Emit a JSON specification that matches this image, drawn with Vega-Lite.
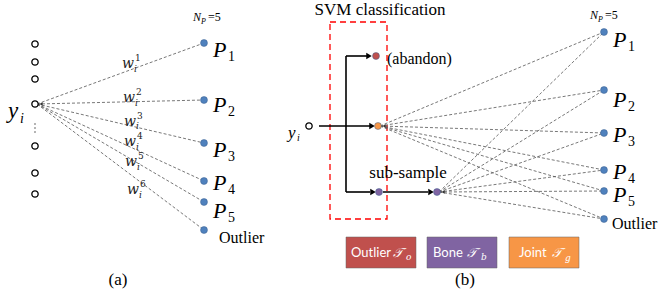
{
  "$schema": "https://vega.github.io/schema/vega-lite/v6.json",
  "width": 666,
  "height": 298,
  "padding": 0,
  "autosize": "none",
  "background": "white",
  "config": {"view": {"stroke": null}},
  "datasets": {
    "dash": [
      {"x": 37, "y": 104, "x2": 204, "y2": 43},
      {"x": 37, "y": 104, "x2": 204, "y2": 100},
      {"x": 37, "y": 104, "x2": 204, "y2": 143},
      {"x": 37, "y": 104, "x2": 204, "y2": 181},
      {"x": 37, "y": 104, "x2": 204, "y2": 202},
      {"x": 37, "y": 104, "x2": 204, "y2": 230},
      {"x": 380, "y": 126, "x2": 604, "y2": 32},
      {"x": 380, "y": 126, "x2": 604, "y2": 90},
      {"x": 380, "y": 126, "x2": 604, "y2": 133},
      {"x": 380, "y": 126, "x2": 604, "y2": 170},
      {"x": 380, "y": 126, "x2": 604, "y2": 191},
      {"x": 380, "y": 126, "x2": 604, "y2": 219},
      {"x": 439, "y": 192, "x2": 604, "y2": 32},
      {"x": 439, "y": 192, "x2": 604, "y2": 90},
      {"x": 439, "y": 192, "x2": 604, "y2": 133},
      {"x": 439, "y": 192, "x2": 604, "y2": 170},
      {"x": 439, "y": 192, "x2": 604, "y2": 191},
      {"x": 439, "y": 192, "x2": 604, "y2": 219}
    ],
    "solid": [
      {"x": 319, "y": 126, "x2": 370, "y2": 126},
      {"x": 346, "y": 56, "x2": 346, "y2": 192},
      {"x": 346, "y": 56, "x2": 367, "y2": 56},
      {"x": 346, "y": 192, "x2": 370, "y2": 192},
      {"x": 383, "y": 192, "x2": 428, "y2": 192}
    ],
    "heads": [
      {"x": 369, "y": 56},
      {"x": 372, "y": 126},
      {"x": 373, "y": 192},
      {"x": 431, "y": 192}
    ],
    "smallheads": [
      {"x": 41, "y": 104},
      {"x": 384, "y": 126},
      {"x": 443, "y": 192}
    ],
    "hollow": [
      {"x": 35, "y": 44}, {"x": 35, "y": 62}, {"x": 35, "y": 79},
      {"x": 35, "y": 104}, {"x": 35, "y": 146}, {"x": 35, "y": 173},
      {"x": 35, "y": 194}, {"x": 309, "y": 126}
    ],
    "ellipsis": [
      {"x": 35, "y": 124}, {"x": 35, "y": 128}, {"x": 35, "y": 132}
    ],
    "dots": [
      {"x": 204, "y": 43, "kind": "Part"},
      {"x": 204, "y": 100, "kind": "Part"},
      {"x": 204, "y": 143, "kind": "Part"},
      {"x": 204, "y": 181, "kind": "Part"},
      {"x": 204, "y": 202, "kind": "Part"},
      {"x": 204, "y": 230, "kind": "Part"},
      {"x": 604, "y": 32, "kind": "Part"},
      {"x": 604, "y": 90, "kind": "Part"},
      {"x": 604, "y": 133, "kind": "Part"},
      {"x": 604, "y": 170, "kind": "Part"},
      {"x": 604, "y": 191, "kind": "Part"},
      {"x": 604, "y": 219, "kind": "Part"},
      {"x": 376, "y": 56, "kind": "Outlier"},
      {"x": 378, "y": 126, "kind": "Joint"},
      {"x": 379, "y": 192, "kind": "Bone"},
      {"x": 437, "y": 192, "kind": "Bone"}
    ],
    "boxes": [
      {"x": 346, "x2": 416, "y": 237, "y2": 268, "kind": "Outlier"},
      {"x": 427, "x2": 497, "y": 237, "y2": 268, "kind": "Bone"},
      {"x": 509, "x2": 579, "y": 237, "y2": 268, "kind": "Joint"}
    ],
    "svmbox": [{"x": 330, "x2": 387, "y": 22, "y2": 219}],
    "bigP": [
      {"x": 213, "y": 57, "t": "P"}, {"x": 213, "y": 112, "t": "P"},
      {"x": 213, "y": 157, "t": "P"}, {"x": 213, "y": 190, "t": "P"},
      {"x": 213, "y": 218, "t": "P"},
      {"x": 613, "y": 47, "t": "P"}, {"x": 613, "y": 107, "t": "P"},
      {"x": 613, "y": 142, "t": "P"}, {"x": 613, "y": 179, "t": "P"},
      {"x": 613, "y": 202, "t": "P"}
    ],
    "subP": [
      {"x": 228, "y": 61, "t": "1"}, {"x": 228, "y": 116, "t": "2"},
      {"x": 228, "y": 161, "t": "3"}, {"x": 228, "y": 194, "t": "4"},
      {"x": 228, "y": 222, "t": "5"},
      {"x": 628, "y": 51, "t": "1"}, {"x": 628, "y": 111, "t": "2"},
      {"x": 628, "y": 146, "t": "3"}, {"x": 628, "y": 183, "t": "4"},
      {"x": 628, "y": 206, "t": "5"}
    ],
    "serifLeft": [
      {"x": 219, "y": 243, "t": "Outlier"},
      {"x": 612, "y": 229, "t": "Outlier"},
      {"x": 387, "y": 64, "t": "(abandon)"}
    ],
    "serifCenter": [
      {"x": 380, "y": 15, "t": "SVM classification"},
      {"x": 408, "y": 178, "t": "sub-sample"},
      {"x": 118, "y": 285, "t": "(a)"},
      {"x": 465, "y": 285, "t": "(b)"}
    ],
    "w": [
      {"x": 122, "y": 68}, {"x": 123, "y": 102}, {"x": 124, "y": 126},
      {"x": 124, "y": 146}, {"x": 125, "y": 166}, {"x": 127, "y": 194}
    ],
    "wsub": [
      {"x": 134, "y": 72, "t": "i"}, {"x": 135, "y": 106, "t": "i"},
      {"x": 136, "y": 129, "t": "i"}, {"x": 136, "y": 150, "t": "i"},
      {"x": 137, "y": 170, "t": "i"}, {"x": 139, "y": 198, "t": "i"}
    ],
    "wsup": [
      {"x": 135, "y": 61, "t": "1"}, {"x": 136, "y": 95, "t": "2"},
      {"x": 137, "y": 119, "t": "3"}, {"x": 137, "y": 139, "t": "4"},
      {"x": 138, "y": 159, "t": "5"}, {"x": 140, "y": 187, "t": "6"}
    ],
    "yBig": [{"x": 8, "y": 118, "t": "y"}],
    "ySubBig": [{"x": 20, "y": 123, "t": "i"}],
    "ySmall": [{"x": 288, "y": 138, "t": "y"}],
    "ySubSmall": [{"x": 297, "y": 141, "t": "i"}],
    "nN": [{"x": 193, "y": 21, "t": "N"}, {"x": 590, "y": 19, "t": "N"}],
    "nP": [{"x": 201, "y": 24, "t": "P"}, {"x": 598, "y": 22, "t": "P"}],
    "nEq": [{"x": 208, "y": 21, "t": "=5"}, {"x": 605, "y": 19, "t": "=5"}],
    "boxword": [
      {"x": 351, "y": 257, "t": "Outlier"},
      {"x": 433, "y": 257, "t": "Bone"},
      {"x": 519, "y": 257, "t": "Joint"}
    ],
    "boxT": [
      {"x": 393, "y": 257, "t": "𝒯"},
      {"x": 467, "y": 257, "t": "𝒯"},
      {"x": 552, "y": 257, "t": "𝒯"}
    ],
    "boxsub": [
      {"x": 406, "y": 260, "t": "o"},
      {"x": 481, "y": 260, "t": "b"},
      {"x": 565, "y": 261, "t": "g"}
    ]
  },
  "encoding": {
    "x": {"field": "x", "type": "quantitative", "scale": {"domain": [0, 666], "nice": false, "zero": false}, "axis": null},
    "y": {"field": "y", "type": "quantitative", "scale": {"domain": [0, 298], "nice": false, "zero": false, "reverse": true}, "axis": null}
  },
  "layer": [
    {
      "data": {"name": "svmbox"},
      "mark": {"type": "rect", "fill": null, "fillOpacity": 0, "stroke": "#FF0000", "strokeWidth": 1.3, "strokeDash": [6, 4]},
      "encoding": {"x2": {"field": "x2"}, "y2": {"field": "y2"}}
    },
    {
      "data": {"name": "dash"},
      "mark": {"type": "rule", "color": "#555555", "strokeWidth": 0.8, "strokeDash": [3, 2]},
      "encoding": {"x2": {"field": "x2"}, "y2": {"field": "y2"}}
    },
    {
      "data": {"name": "solid"},
      "mark": {"type": "rule", "color": "#000000", "strokeWidth": 1.6},
      "encoding": {"x2": {"field": "x2"}, "y2": {"field": "y2"}}
    },
    {
      "data": {"name": "heads"},
      "mark": {"type": "point", "shape": "triangle-right", "filled": true, "color": "#000000", "size": 40, "opacity": 1}
    },
    {
      "data": {"name": "smallheads"},
      "mark": {"type": "point", "shape": "triangle-left", "filled": true, "color": "#333333", "size": 14, "opacity": 1}
    },
    {
      "data": {"name": "hollow"},
      "mark": {"type": "point", "shape": "circle", "filled": true, "fill": "#ffffff", "stroke": "#000000", "strokeWidth": 1.3, "size": 40, "opacity": 1}
    },
    {
      "data": {"name": "ellipsis"},
      "mark": {"type": "point", "shape": "circle", "filled": true, "color": "#333333", "size": 2, "opacity": 1}
    },
    {
      "data": {"name": "boxes"},
      "mark": {"type": "rect", "stroke": "#666666", "strokeOpacity": 0.5, "strokeWidth": 1},
      "encoding": {
        "x2": {"field": "x2"}, "y2": {"field": "y2"},
        "fill": {"field": "kind", "type": "nominal", "legend": null,
          "scale": {"domain": ["Outlier", "Bone", "Joint", "Part"], "range": ["#C0504D", "#8064A2", "#F79646", "#4F81BD"]}}
      }
    },
    {
      "data": {"name": "dots"},
      "mark": {"type": "point", "shape": "circle", "filled": true, "size": 48, "opacity": 1, "stroke": "#3a5f8f", "strokeWidth": 0.5},
      "encoding": {
        "fill": {"field": "kind", "type": "nominal", "legend": null,
          "scale": {"domain": ["Outlier", "Bone", "Joint", "Part"], "range": ["#C0504D", "#8064A2", "#F79646", "#4F81BD"]}}
      }
    },
    {
      "data": {"name": "bigP"},
      "mark": {"type": "text", "font": "Liberation Serif", "fontStyle": "italic", "fontSize": 22, "align": "left", "baseline": "alphabetic", "color": "#000000"},
      "encoding": {"text": {"field": "t"}}
    },
    {
      "data": {"name": "subP"},
      "mark": {"type": "text", "font": "Liberation Serif", "fontSize": 14, "align": "left", "baseline": "alphabetic", "color": "#000000"},
      "encoding": {"text": {"field": "t"}}
    },
    {
      "data": {"name": "serifLeft"},
      "mark": {"type": "text", "font": "Liberation Serif", "fontSize": 16, "align": "left", "baseline": "alphabetic", "color": "#000000"},
      "encoding": {"text": {"field": "t"}}
    },
    {
      "data": {"name": "serifCenter"},
      "mark": {"type": "text", "font": "Liberation Serif", "fontSize": 17, "align": "center", "baseline": "alphabetic", "color": "#000000"},
      "encoding": {"text": {"field": "t"}}
    },
    {
      "data": {"name": "w"},
      "mark": {"type": "text", "font": "DejaVu Serif", "fontStyle": "italic", "fontSize": 14, "align": "left", "baseline": "alphabetic", "color": "#222222", "text": "w"}
    },
    {
      "data": {"name": "wsub"},
      "mark": {"type": "text", "font": "DejaVu Serif", "fontStyle": "italic", "fontSize": 9, "align": "left", "baseline": "alphabetic", "color": "#222222"},
      "encoding": {"text": {"field": "t"}}
    },
    {
      "data": {"name": "wsup"},
      "mark": {"type": "text", "font": "DejaVu Serif", "fontSize": 9, "align": "left", "baseline": "alphabetic", "color": "#222222"},
      "encoding": {"text": {"field": "t"}}
    },
    {
      "data": {"name": "yBig"},
      "mark": {"type": "text", "font": "Liberation Serif", "fontStyle": "italic", "fontSize": 23, "align": "left", "baseline": "alphabetic", "color": "#000000"},
      "encoding": {"text": {"field": "t"}}
    },
    {
      "data": {"name": "ySubBig"},
      "mark": {"type": "text", "font": "Liberation Serif", "fontStyle": "italic", "fontSize": 14, "align": "left", "baseline": "alphabetic", "color": "#000000"},
      "encoding": {"text": {"field": "t"}}
    },
    {
      "data": {"name": "ySmall"},
      "mark": {"type": "text", "font": "Liberation Serif", "fontStyle": "italic", "fontSize": 17, "align": "left", "baseline": "alphabetic", "color": "#000000"},
      "encoding": {"text": {"field": "t"}}
    },
    {
      "data": {"name": "ySubSmall"},
      "mark": {"type": "text", "font": "Liberation Serif", "fontStyle": "italic", "fontSize": 10, "align": "left", "baseline": "alphabetic", "color": "#000000"},
      "encoding": {"text": {"field": "t"}}
    },
    {
      "data": {"name": "nN"},
      "mark": {"type": "text", "font": "Liberation Serif", "fontStyle": "italic", "fontSize": 12, "align": "left", "baseline": "alphabetic", "color": "#000000"},
      "encoding": {"text": {"field": "t"}}
    },
    {
      "data": {"name": "nP"},
      "mark": {"type": "text", "font": "Liberation Serif", "fontStyle": "italic", "fontSize": 8, "align": "left", "baseline": "alphabetic", "color": "#000000"},
      "encoding": {"text": {"field": "t"}}
    },
    {
      "data": {"name": "nEq"},
      "mark": {"type": "text", "font": "Liberation Serif", "fontSize": 12, "align": "left", "baseline": "alphabetic", "color": "#000000"},
      "encoding": {"text": {"field": "t"}}
    },
    {
      "data": {"name": "boxword"},
      "mark": {"type": "text", "font": "Lato", "fontSize": 13, "align": "left", "baseline": "alphabetic", "color": "#ffffff"},
      "encoding": {"text": {"field": "t"}}
    },
    {
      "data": {"name": "boxT"},
      "mark": {"type": "text", "font": "DejaVu Serif", "fontStyle": "italic", "fontSize": 13, "align": "left", "baseline": "alphabetic", "color": "#ffffff"},
      "encoding": {"text": {"field": "t"}}
    },
    {
      "data": {"name": "boxsub"},
      "mark": {"type": "text", "font": "DejaVu Serif", "fontStyle": "italic", "fontSize": 9, "align": "left", "baseline": "alphabetic", "color": "#ffffff"},
      "encoding": {"text": {"field": "t"}}
    }
  ]
}
